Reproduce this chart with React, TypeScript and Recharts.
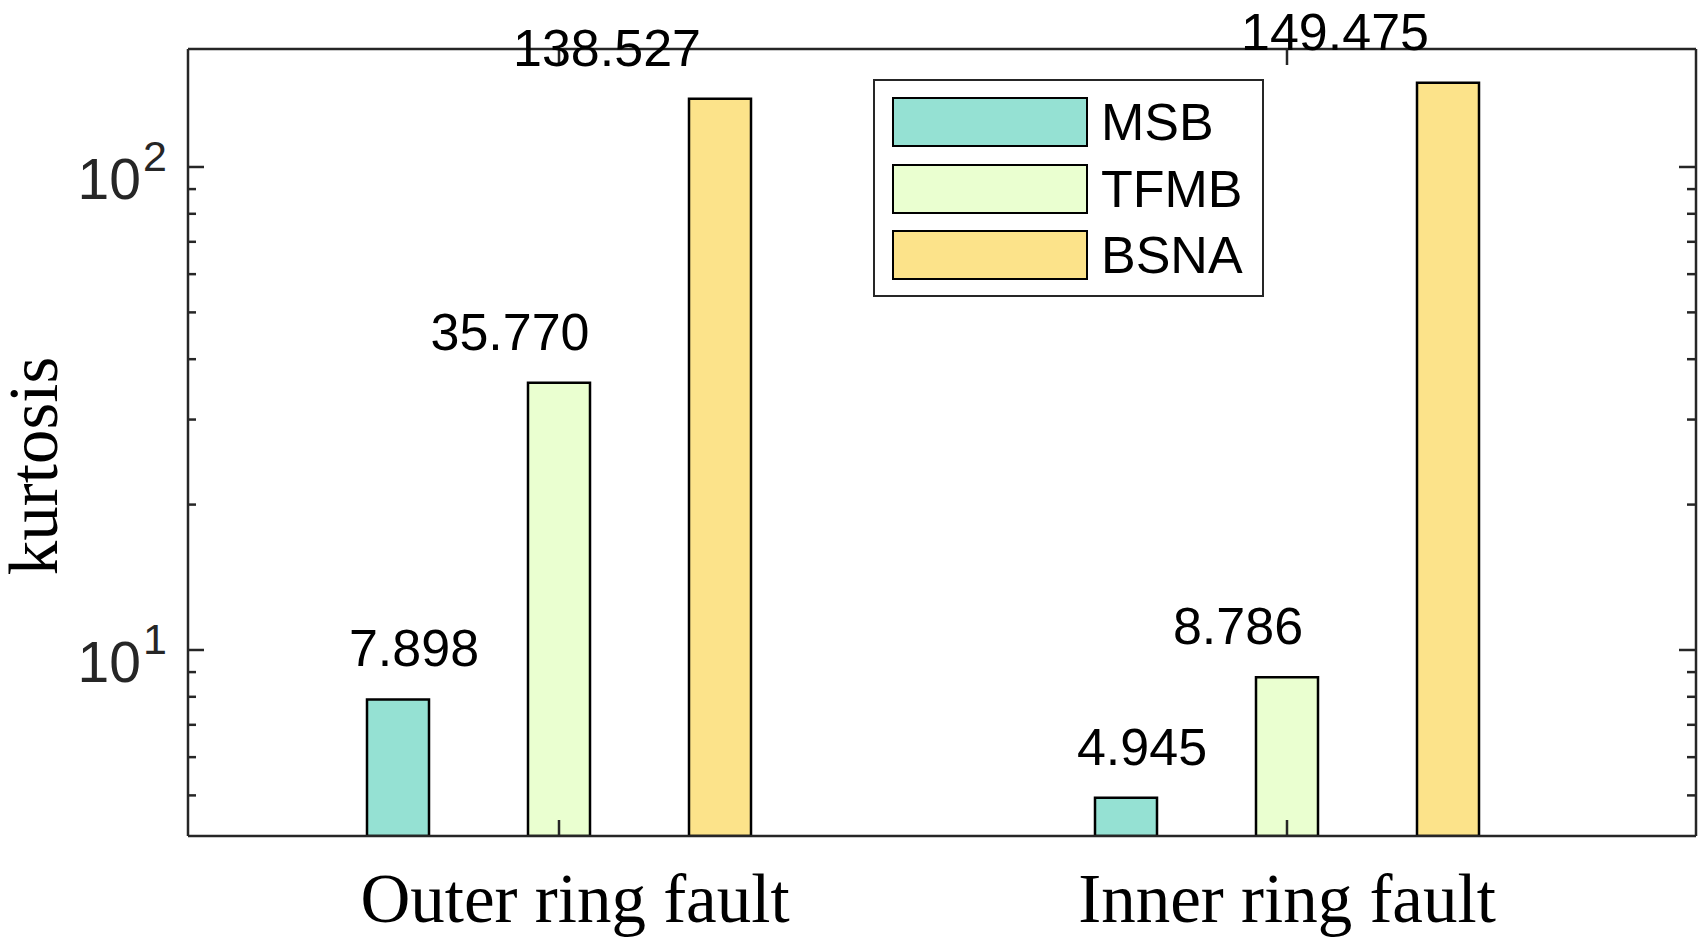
import React from 'react';
import { BarChart, Bar, XAxis, YAxis, LabelList } from 'recharts';

const categories = ['Outer ring fault', 'Inner ring fault'];
const msbValues = [7.898, 4.945];
const tfmbValues = [35.77, 8.786];
const bsnaValues = [138.527, 149.475];

const yTicks = [5, 6, 7, 8, 9, 10, 20, 30, 40, 50, 60, 70, 80, 90, 100];
const majorTicks = [10, 100];
const yDomain = [4.12, 175.5];

// labelDx: the value texts in the original figure sit off the bar centres
const series = [
  { key: 'MSB', name: 'MSB', fill: '#95E1D3', labelDx: 16 },
  { key: 'TFMB', name: 'TFMB', fill: '#EAFFD0', labelDx: -49 },
  { key: 'BSNA', name: 'BSNA', fill: '#FCE38A', labelDx: -113 },
];

const data = categories.map((name, i) => ({
  name,
  MSB: msbValues[i],
  TFMB: tfmbValues[i],
  BSNA: bsnaValues[i],
}));

const AXIS = '#262626';
const SANS = '"Liberation Sans", Arial, sans-serif';
const SERIF = '"Liberation Serif", "Times New Roman", serif';

const LeftTick = (props: any) => {
  const { x, y, payload } = props;
  const v = payload.value;
  const major = majorTicks.includes(v);
  return (
    <g>
      <line x1={x} x2={x + (major ? 16 : 8)} y1={y} y2={y} stroke={AXIS} strokeWidth={2.5} />
      {major && (
        <>
          <text x={x - 47} y={y + 32} textAnchor="end" fontFamily={SANS} fontSize={57} fill="#262626">
            10
          </text>
          <text x={x - 45} y={y + 4} textAnchor="start" fontFamily={SANS} fontSize={43} fill="#262626">
            {Math.round(Math.log10(v))}
          </text>
        </>
      )}
    </g>
  );
};

const RightTick = (props: any) => {
  const { x, y, payload } = props;
  const major = majorTicks.includes(payload.value);
  return <line x1={x} x2={x - (major ? 17 : 9)} y1={y} y2={y} stroke={AXIS} strokeWidth={2.5} />;
};

const BottomTick = (props: any) => {
  const { x, y, payload, index } = props;
  const dx = index === 0 ? 16 : 0;
  return (
    <g>
      <line x1={x} x2={x} y1={y} y2={y - 16} stroke={AXIS} strokeWidth={2.5} />
      <text x={x + dx} y={y + 86} textAnchor="middle" fontFamily={SERIF} fontSize={69} fill="#000">
        {payload.value}
      </text>
    </g>
  );
};

const TopTick = (props: any) => {
  const { x, y } = props;
  return <line x1={x} x2={x} y1={y} y2={y + 16} stroke={AXIS} strokeWidth={2.5} />;
};

const makeValueLabel = (dx: number) => (props: any) => {
  const { x, y, width, value } = props;
  return (
    <text x={x + width / 2 + dx} y={y - 33} textAnchor="middle" fontFamily={SANS} fontSize={52} fill="#000">
      {Number(value).toFixed(3)}
    </text>
  );
};

const App: React.FC = () => {
  return (
    <div style={{ position: 'absolute', left: 0, top: 0, width: 1704, height: 941, background: '#fff' }}>
      <BarChart
        width={1704}
        height={941}
        data={data}
        margin={{ top: 0, right: 0, bottom: 0, left: 0 }}
        barSize={62}
        barGap={99}
      >
        <XAxis
          xAxisId="bottom"
          dataKey="name"
          height={105}
          padding={{ left: 7, right: 45 }}
          axisLine={{ stroke: AXIS, strokeWidth: 2.5 }}
          tickLine={false}
          tickSize={0}
          tickMargin={0}
          tick={BottomTick}
          interval={0}
        />
        <XAxis
          xAxisId="top"
          orientation="top"
          dataKey="name"
          height={49}
          padding={{ left: 7, right: 45 }}
          axisLine={{ stroke: AXIS, strokeWidth: 2.5 }}
          tickLine={false}
          tickSize={0}
          tickMargin={0}
          tick={TopTick}
          interval={0}
        />
        <YAxis
          yAxisId="left"
          width={188}
          scale="log"
          type="number"
          domain={yDomain}
          allowDataOverflow
          ticks={yTicks}
          interval={0}
          axisLine={{ stroke: AXIS, strokeWidth: 2.5 }}
          tickLine={false}
          tickSize={0}
          tickMargin={0}
          tick={LeftTick}
          label={{
            value: 'kurtosis',
            angle: -90,
            position: 'insideLeft',
            content: () => (
              <text
                x={57}
                y={466}
                transform="rotate(-90 57 466)"
                textAnchor="middle"
                fontFamily={SERIF}
                fontSize={69}
                fill="#000"
              >
                kurtosis
              </text>
            ),
          }}
        />
        <YAxis
          yAxisId="right"
          orientation="right"
          width={8}
          scale="log"
          type="number"
          domain={yDomain}
          allowDataOverflow
          ticks={yTicks}
          interval={0}
          axisLine={{ stroke: AXIS, strokeWidth: 2.5 }}
          tickLine={false}
          tickSize={0}
          tickMargin={0}
          tick={RightTick}
        />
        {series.map((s) => (
          <Bar
            key={s.key}
            dataKey={s.key}
            name={s.name}
            xAxisId="bottom"
            yAxisId="left"
            fill={s.fill}
            stroke="#000"
            strokeWidth={2.5}
            isAnimationActive={false}
          >
            <LabelList dataKey={s.key} content={makeValueLabel(s.labelDx)} />
          </Bar>
        ))}
      </BarChart>
      <div
        style={{
          position: 'absolute',
          left: 873,
          top: 79,
          width: 391,
          height: 218,
          boxSizing: 'border-box',
          border: `2.5px solid ${AXIS}`,
          background: '#fff',
        }}
      >
        {series.map((s, i) => (
          <div
            key={s.key}
            style={{ position: 'absolute', left: 17, top: 16 + i * 66.5, height: 50, display: 'flex', alignItems: 'center' }}
          >
            <div
              style={{
                width: 196,
                height: 50,
                boxSizing: 'border-box',
                background: s.fill,
                border: '2.5px solid #000',
              }}
            />
            <span style={{ marginLeft: 13, fontFamily: SANS, fontSize: 52, color: '#000', lineHeight: '50px' }}>
              {s.name}
            </span>
          </div>
        ))}
      </div>
    </div>
  );
};

export default App;
